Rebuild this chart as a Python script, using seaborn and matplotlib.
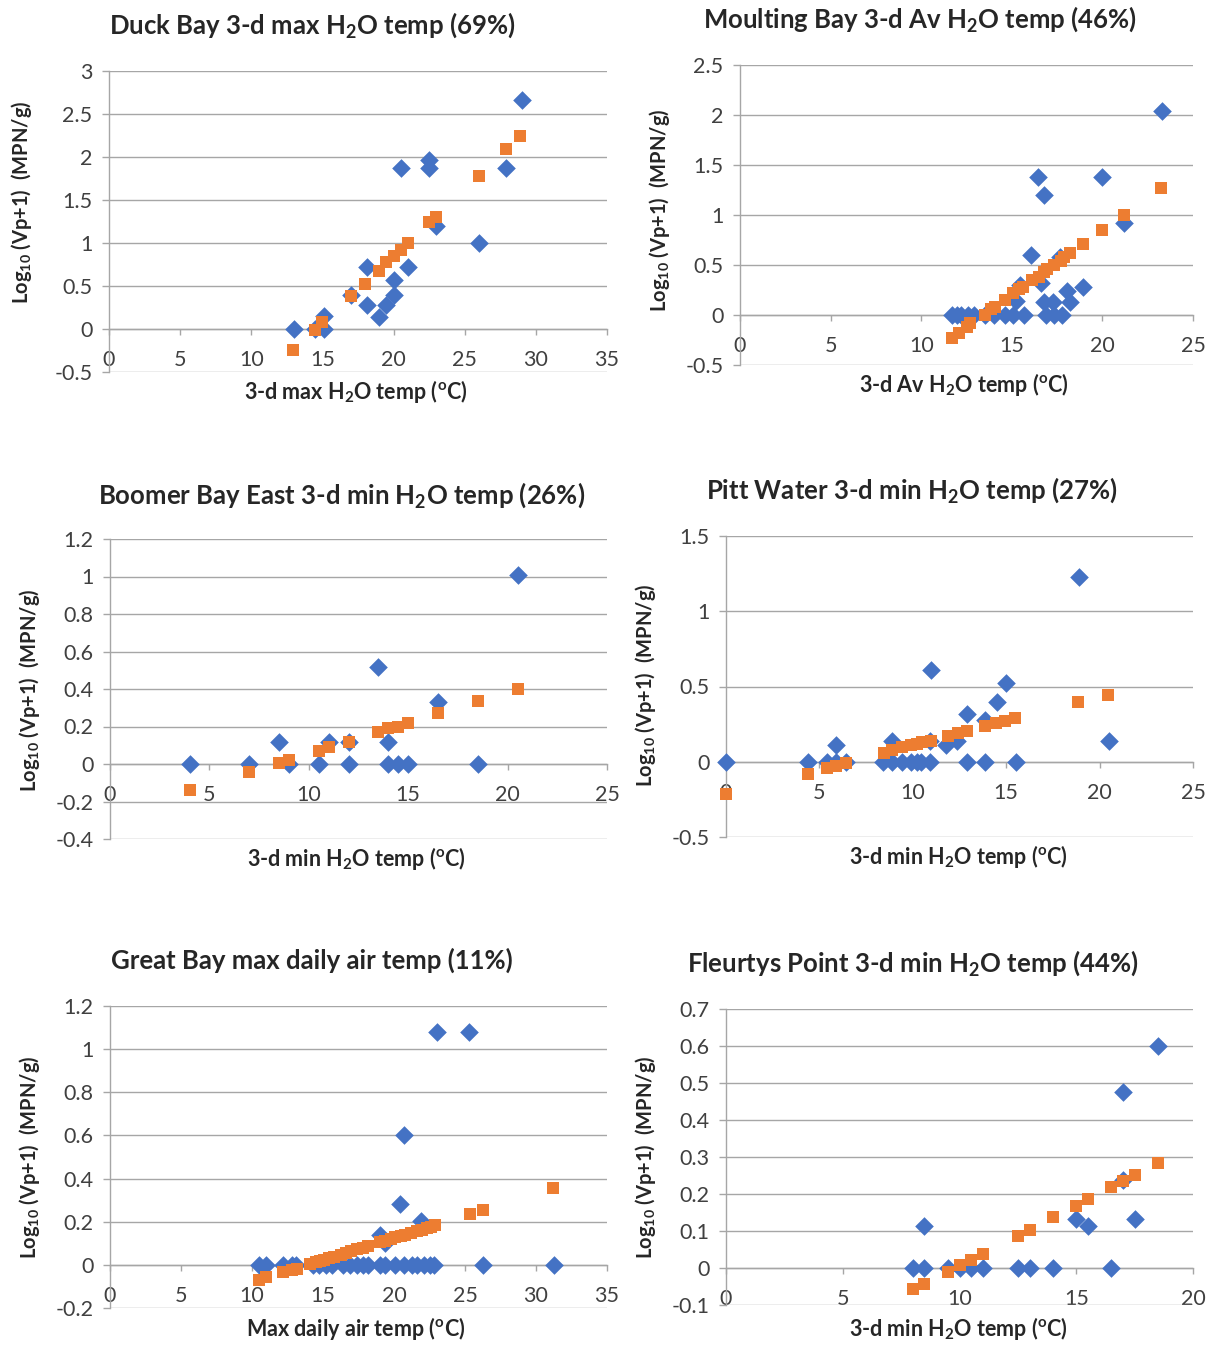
import matplotlib
matplotlib.use("Agg")
import matplotlib.pyplot as plt
import seaborn as sns
from matplotlib.ticker import MultipleLocator, FuncFormatter

# --- Data: observed Vp (blue diamonds) and fitted model (orange squares) ---
duck_obs_x = [13.0, 14.5, 15.1, 15.1, 17.0, 18.1, 18.1, 19.0, 19.5, 20.0, 20.0, 20.5, 21.0,
              22.5, 22.5, 23.0, 26.0, 27.9, 29.0]
duck_obs_y = [0.0, 0.0, 0.0, 0.15, 0.39, 0.72, 0.28, 0.14, 0.28, 0.40, 0.57, 1.87, 0.72,
              1.97, 1.87, 1.20, 1.00, 1.87, 2.66]
duck_fit_x = [12.9, 14.5, 15.0, 17.0, 18.0, 19.0, 19.5, 20.0, 20.5, 21.0, 22.5, 23.0, 26.0, 27.9, 28.9]
duck_fit_y = [-0.24, -0.01, 0.08, 0.38, 0.52, 0.68, 0.78, 0.85, 0.92, 1.00, 1.24, 1.30, 1.78, 2.09, 2.24]

moult_obs_x = [11.7, 11.95, 12.2, 12.6, 12.9, 13.5, 14.0, 14.6, 15.05, 15.7, 16.9, 17.35, 17.75,
               15.25, 15.45, 16.05, 16.45, 16.6, 16.75, 16.8, 17.3, 17.65, 18.05, 18.2, 18.95,
               20.0, 21.2, 23.3]
moult_obs_y = [0.0, 0.0, 0.0, 0.0, 0.0, 0.0, 0.0, 0.0, 0.0, 0.0, 0.0, 0.0, 0.0,
               0.14, 0.30, 0.60, 1.38, 0.32, 1.20, 0.13, 0.13, 0.58, 0.24, 0.13, 0.28,
               1.38, 0.92, 2.04]
moult_fit_x = [11.7, 12.1, 12.5, 12.7, 13.5, 13.85, 14.05, 14.65, 15.05, 15.4, 15.6, 16.1,
               16.5, 16.75, 16.95, 17.35, 17.7, 17.9, 18.2, 18.95, 20.0, 21.2, 23.25]
moult_fit_y = [-0.23, -0.18, -0.12, -0.08, 0.0, 0.057, 0.077, 0.15, 0.217, 0.257, 0.277, 0.35,
               0.383, 0.433, 0.457, 0.50, 0.543, 0.583, 0.617, 0.71, 0.85, 1.00, 1.27]

boomer_obs_x = [4.0, 7.0, 8.5, 9.0, 10.5, 11.0, 12.0, 12.0, 13.5, 14.0, 14.0, 14.5, 15.0, 16.5, 18.5, 20.5]
boomer_obs_y = [0.0, 0.0, 0.12, 0.0, 0.0, 0.12, 0.12, 0.0, 0.52, 0.12, 0.0, 0.0, 0.0, 0.33, 0.0, 1.01]
boomer_fit_x = [4.0, 7.0, 8.5, 9.0, 10.5, 11.0, 12.0, 13.5, 14.0, 14.5, 15.0, 16.5, 18.5, 20.5]
boomer_fit_y = [-0.14, -0.045, 0.005, 0.02, 0.07, 0.09, 0.12, 0.17, 0.19, 0.20, 0.22, 0.27, 0.335, 0.40]

pitt_obs_x = [0.0, 4.4, 5.4, 5.9, 6.4, 5.9, 8.4, 8.9, 9.4, 9.9, 10.2, 10.45, 10.9, 8.9, 10.95,
              10.9, 11.8, 12.35, 12.9, 12.9, 13.85, 13.85, 14.5, 15.0, 15.5, 18.9, 20.5]
pitt_obs_y = [0.0, 0.0, 0.0, 0.0, 0.0, 0.11, 0.0, 0.0, 0.0, 0.0, 0.0, 0.0, 0.0, 0.14, 0.61,
              0.14, 0.11, 0.135, 0.32, 0.0, 0.28, 0.0, 0.40, 0.52, 0.0, 1.23, 0.14]
pitt_fit_x = [0.0, 4.4, 5.4, 5.9, 6.45, 8.45, 8.9, 9.4, 9.9, 10.25, 10.5, 10.95, 11.9, 12.4,
              12.9, 13.85, 14.45, 14.95, 15.45, 18.85, 20.45]
pitt_fit_y = [-0.216, -0.08, -0.042, -0.027, -0.01, 0.058, 0.08, 0.097, 0.108, 0.12, 0.128,
              0.14, 0.172, 0.19, 0.205, 0.239, 0.257, 0.274, 0.29, 0.395, 0.446]

great_obs_x = [10.5, 11.0, 12.2, 12.8, 13.1, 14.3, 14.7, 15.2, 15.6, 16.4, 16.9, 17.4, 17.8,
               18.2, 19.0, 19.4, 20.1, 20.7, 21.3, 21.6, 22.1, 22.5, 22.8, 26.3, 31.3,
               19.0, 19.4, 20.4, 20.7, 21.9, 23.0, 25.3]
great_obs_y = [0.0, 0.0, 0.0, 0.0, 0.0, 0.0, 0.0, 0.0, 0.0, 0.0, 0.0, 0.0, 0.0,
               0.0, 0.0, 0.0, 0.0, 0.0, 0.0, 0.0, 0.0, 0.0, 0.0, 0.0, 0.0,
               0.14, 0.10, 0.28, 0.60, 0.205, 1.08, 1.08]
great_fit_x = [10.5, 11.0, 12.2, 12.8, 13.2, 14.1, 14.5, 14.8, 15.1, 15.4, 15.8, 16.3, 16.6,
               17.0, 17.4, 17.8, 18.2, 19.0, 19.4, 19.8, 20.1, 20.5, 20.8, 21.2, 21.6, 22.0,
               22.3, 22.6, 22.9, 25.35, 26.3, 31.2]
great_fit_y = [-0.072, -0.057, -0.035, -0.026, -0.02, 0.005, 0.012, 0.018, 0.024, 0.03, 0.038,
               0.048, 0.055, 0.064, 0.072, 0.08, 0.088, 0.105, 0.112, 0.12, 0.127, 0.133, 0.14,
               0.147, 0.155, 0.163, 0.17, 0.177, 0.185, 0.234, 0.254, 0.355]

fleur_obs_x = [8.0, 8.5, 8.5, 9.5, 10.0, 10.5, 11.0, 12.5, 13.0, 14.0, 15.0, 15.5, 16.5, 17.0, 17.0, 17.5, 18.5]
fleur_obs_y = [0.0, 0.0, 0.114, 0.0, 0.0, 0.0, 0.0, 0.0, 0.0, 0.0, 0.132, 0.114, 0.0, 0.475, 0.238, 0.132, 0.601]
fleur_fit_x = [8.0, 8.5, 9.5, 10.0, 10.5, 11.0, 12.5, 13.0, 14.0, 15.0, 15.5, 16.5, 17.0, 17.5, 18.5]
fleur_fit_y = [-0.058, -0.043, -0.012, 0.007, 0.022, 0.039, 0.087, 0.103, 0.138, 0.168, 0.187,
               0.219, 0.234, 0.252, 0.285]

BLUE = "#4472C4"
ORANGE = "#ED7D31"
GRID = "#A6A6A6"
W, H = 1216, 1349

sns.set_style("white")
plt.rcParams["font.family"] = ["Lato", "DejaVu Sans"]
plt.rcParams["axes.unicode_minus"] = False
plt.rcParams["mathtext.fontset"] = "custom"
plt.rcParams["mathtext.rm"] = "Lato"
plt.rcParams["mathtext.bf"] = "Lato:bold"
plt.rcParams["mathtext.default"] = "bf"

YLAB = r"Log$_{10}$ (Vp+1)  (MPN/g)"

# pixel boxes: (left, right, top, bottom) of the plot area
panels = [
    dict(box=(109, 607, 71, 372), xlim=(0, 35), ylim=(-0.5, 3), xs=5, ys=0.5,
         obs=(duck_obs_x, duck_obs_y), fit=(duck_fit_x, duck_fit_y),
         title=r"Duck Bay 3-d max H$_2$O temp (69%)", tpos=(312, 25),
         xlab=r"3-d max H$_2$O temp ($^o$C)", xpos=(356, 392), ypos=(22, 202)),
    dict(box=(740, 1193, 65, 365), xlim=(0, 25), ylim=(-0.5, 2.5), xs=5, ys=0.5,
         obs=(moult_obs_x, moult_obs_y), fit=(moult_fit_x, moult_fit_y),
         title=r"Moulting Bay 3-d Av H$_2$O temp (46%)", tpos=(920, 19),
         xlab=r"3-d Av H$_2$O temp ($^o$C)", xpos=(964, 384), ypos=(660, 210)),
    dict(box=(110, 607, 539, 839), xlim=(0, 25), ylim=(-0.4, 1.2), xs=5, ys=0.2,
         obs=(boomer_obs_x, boomer_obs_y), fit=(boomer_fit_x, boomer_fit_y),
         title=r"Boomer Bay East 3-d min H$_2$O temp (26%)", tpos=(342, 495),
         xlab=r"3-d min H$_2$O temp ($^o$C)", xpos=(356, 858), ypos=(30, 690)),
    dict(box=(726, 1193, 536, 837), xlim=(0, 25), ylim=(-0.5, 1.5), xs=5, ys=0.5,
         obs=(pitt_obs_x, pitt_obs_y), fit=(pitt_fit_x, pitt_fit_y),
         title=r"Pitt Water 3-d min H$_2$O temp (27%)", tpos=(912, 490),
         xlab=r"3-d min H$_2$O temp ($^o$C)", xpos=(958, 857), ypos=(645, 685)),
    dict(box=(110, 607, 1006, 1308), xlim=(0, 35), ylim=(-0.2, 1.2), xs=5, ys=0.2,
         obs=(great_obs_x, great_obs_y), fit=(great_fit_x, great_fit_y),
         title="Great Bay max daily air temp (11%)", tpos=(312, 960),
         xlab=r"Max daily air temp ($^o$C)", xpos=(356, 1329), ypos=(30, 1157)),
    dict(box=(726, 1193, 1009, 1305), xlim=(0, 20), ylim=(-0.1, 0.7), xs=5, ys=0.1,
         obs=(fleur_obs_x, fleur_obs_y), fit=(fleur_fit_x, fleur_fit_y),
         title=r"Fleurtys Point 3-d min H$_2$O temp (44%)", tpos=(913, 963),
         xlab=r"3-d min H$_2$O temp ($^o$C)", xpos=(958, 1329), ypos=(645, 1157)),
]

fig = plt.figure(figsize=(W / 100, H / 100), dpi=100)
fmt = FuncFormatter(lambda v, pos: f"{round(v, 3):g}")

for p in panels:
    l, r, t, b = p["box"]
    ax = fig.add_axes([l / W, 1 - b / H, (r - l) / W, (b - t) / H])
    sns.scatterplot(x=p["obs"][0], y=p["obs"][1], marker="D", color=BLUE, s=90,
                    linewidth=0, clip_on=False, zorder=3, ax=ax)
    sns.scatterplot(x=p["fit"][0], y=p["fit"][1], marker="s", color=ORANGE, s=64,
                    linewidth=0, clip_on=False, zorder=4, ax=ax)
    ax.set_xlim(*p["xlim"])
    ax.set_ylim(*p["ylim"])
    ax.xaxis.set_major_locator(MultipleLocator(p["xs"]))
    ax.yaxis.set_major_locator(MultipleLocator(p["ys"]))
    ax.xaxis.set_major_formatter(fmt)
    ax.yaxis.set_major_formatter(fmt)
    ax.yaxis.grid(True, color=GRID, linewidth=1.0)
    ax.xaxis.grid(False)
    ax.set_axisbelow(True)
    for side in ["top", "right"]:
        ax.spines[side].set_visible(False)
    ax.spines["bottom"].set_position(("data", 0))
    for side in ["left", "bottom"]:
        ax.spines[side].set_color(GRID)
        ax.spines[side].set_linewidth(1.0)
    ax.tick_params(axis="x", direction="out", length=4, width=1, color=GRID, pad=11,
                   labelsize=15.5, labelcolor="#404040", bottom=True)
    ax.tick_params(axis="y", direction="out", length=5, width=1, color=GRID, pad=7,
                   labelsize=15.5, labelcolor="#404040", left=True)

    fig.text(p["tpos"][0] / W, 1 - p["tpos"][1] / H, p["title"], ha="center", va="center",
             fontsize=18.5, fontweight="bold")
    fig.text(p["xpos"][0] / W, 1 - p["xpos"][1] / H, p["xlab"], ha="center", va="center",
             fontsize=15.5, fontweight="bold")
    fig.text(p["ypos"][0] / W, 1 - p["ypos"][1] / H, YLAB, ha="center", va="center",
             rotation=90, fontsize=14.5, fontweight="bold")

fig.savefig("out.png", dpi=100)
